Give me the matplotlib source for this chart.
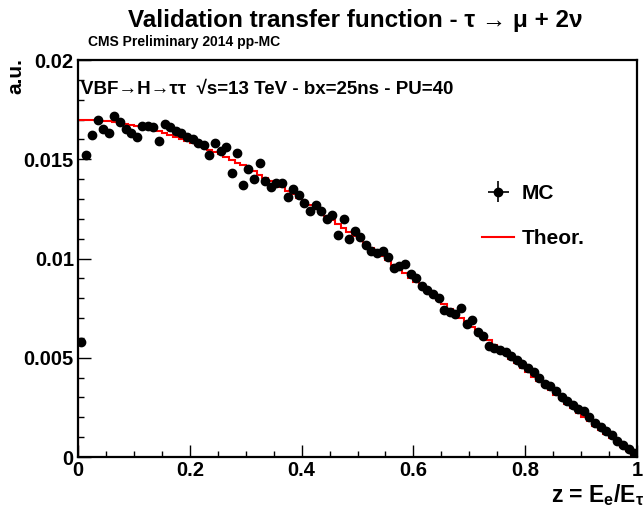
import numpy as np
import matplotlib
matplotlib.use('Agg')
import matplotlib.pyplot as plt
from matplotlib.ticker import MultipleLocator, FuncFormatter

plt.rcParams['font.family'] = ['Liberation Sans', 'DejaVu Sans']
plt.rcParams['font.weight'] = 'bold'
plt.rcParams['mathtext.fontset'] = 'custom'
plt.rcParams['mathtext.rm'] = 'Liberation Sans:bold'
plt.rcParams['mathtext.bf'] = 'Liberation Sans:bold'
plt.rcParams['mathtext.it'] = 'Liberation Sans:bold'

# bin edges of the histogram, z = E_e / E_tau
bordes = np.linspace(0, 1, 101)
centros = (bordes[:-1] + bordes[1:]) / 2

# curva teorica (rojo)
teoria = [
    0.01700, 0.01699, 0.01698, 0.01696, 0.01694, 0.01691, 0.01687, 0.01683, 0.01679, 0.01674,
    0.01668, 0.01662, 0.01655, 0.01648, 0.01640, 0.01632, 0.01623, 0.01614, 0.01604, 0.01594,
    0.01583, 0.01572, 0.01561, 0.01549, 0.01536, 0.01524, 0.01510, 0.01497, 0.01483, 0.01469,
    0.01454, 0.01439, 0.01423, 0.01408, 0.01392, 0.01375, 0.01358, 0.01341, 0.01324, 0.01306,
    0.01288, 0.01270, 0.01252, 0.01233, 0.01214, 0.01195, 0.01175, 0.01155, 0.01135, 0.01115,
    0.01095, 0.01074, 0.01053, 0.01032, 0.01011, 0.00990, 0.00968, 0.00947, 0.00925, 0.00903,
    0.00881, 0.00859, 0.00837, 0.00814, 0.00792, 0.00769, 0.00747, 0.00724, 0.00701, 0.00678,
    0.00656, 0.00633, 0.00610, 0.00587, 0.00564, 0.00541, 0.00518, 0.00495, 0.00472, 0.00449,
    0.00427, 0.00404, 0.00381, 0.00358, 0.00336, 0.00313, 0.00291, 0.00268, 0.00246, 0.00224,
    0.00202, 0.00180, 0.00158, 0.00137, 0.00115, 0.00094, 0.00073, 0.00052, 0.00031, 0.00010,
]

# puntos MC (negro)
mc = [
    0.0058, 0.0152, 0.0162, 0.0170, 0.0165, 0.0163, 0.0172, 0.0169, 0.0165, 0.0163,
    0.0161, 0.0167, 0.0167, 0.0166, 0.0159, 0.0168, 0.0166, 0.0164, 0.0163, 0.0161,
    0.0160, 0.0158, 0.0157, 0.0152, 0.0158, 0.0154, 0.0156, 0.0143, 0.0153, 0.0137,
    0.0145, 0.0140, 0.0148, 0.0139, 0.0136, 0.0138, 0.0138, 0.0131, 0.0135, 0.0132,
    0.0128, 0.0124, 0.0127, 0.0124, 0.0120, 0.0122, 0.0112, 0.0120, 0.0110, 0.0114,
    0.0111, 0.0107, 0.0104, 0.0103, 0.0104, 0.0101, 0.0095, 0.0096, 0.0097, 0.0092,
    0.0090, 0.0086, 0.0084, 0.0082, 0.0080, 0.0074, 0.0073, 0.0072, 0.0075, 0.0067,
    0.0069, 0.0063, 0.0061, 0.0056, 0.0055, 0.0054, 0.0053, 0.0051, 0.0049, 0.0047,
    0.0045, 0.0043, 0.0040, 0.0037, 0.0036, 0.0033, 0.0030, 0.0028, 0.0026, 0.0024,
    0.0023, 0.0020, 0.0017, 0.0015, 0.0013, 0.0011, 0.0008, 0.0006, 0.0004, 0.0002,
]

fig = plt.figure(figsize=(6.43, 5.11), dpi=100)
ax = fig.add_axes([78 / 643, 1 - 457 / 511, 559 / 643, 397 / 511])

h_teo = ax.stairs(teoria, bordes, color='red', linewidth=1.5, baseline=0, label='Theor.', zorder=2)
h_mc = ax.errorbar(centros, mc, xerr=0.005, yerr=0.00015, fmt='o', color='black',
                   markersize=6, elinewidth=1.2, capsize=0, label='MC', zorder=3)

ax.set_xlim(0, 1)
ax.set_ylim(0, 0.02)

ax.xaxis.set_major_locator(MultipleLocator(0.2))
ax.xaxis.set_minor_locator(MultipleLocator(0.05))
ax.yaxis.set_major_locator(MultipleLocator(0.005))
ax.yaxis.set_minor_locator(MultipleLocator(0.001))
ax.xaxis.set_major_formatter(FuncFormatter(lambda v, p: '%g' % round(v, 3)))
ax.yaxis.set_major_formatter(FuncFormatter(lambda v, p: '%g' % round(v, 4)))
ax.tick_params(which='both', direction='in', top=False, right=False, width=1, labelsize=14.5)
ax.tick_params(which='major', length=9, pad=3)
ax.tick_params(which='minor', length=4.5)
for s in ax.spines.values():
    s.set_linewidth(1.6)

# textos
fig.text(355 / 643, 1 - 20 / 511, 'Validation transfer function - \u03c4 \u2192 \u03bc + 2\u03bd',
         ha='center', va='center', fontsize=17.5, fontweight='bold')
fig.text(88 / 643, 1 - 42 / 511, 'CMS Preliminary 2014 pp-MC',
         ha='left', va='center', fontsize=10, fontweight='bold')
ax.text(0.005, 0.925, 'VBF\u2192H\u2192\u03c4\u03c4  \u221as=13 TeV - bx=25ns - PU=40',
        transform=ax.transAxes, ha='left', va='center', fontsize=13.5, fontweight='bold')
fig.text(16 / 643, 1 - 58 / 511, 'a.u.', rotation=90, ha='center', va='top',
         fontsize=15, fontweight='bold')
fig.text(644 / 643, 1 - 495 / 511, r'z = E$_\mathbf{e}$/E$_\mathbf{\tau}$',
         ha='right', va='center', fontsize=16.5, fontweight='bold')

leg = ax.legend([h_mc, h_teo], ['MC', 'Theor.'], loc='upper left',
                bbox_to_anchor=(0.69, 0.735), frameon=False,
                fontsize=15, handlelength=1.5, handletextpad=0.4, labelspacing=1.25)
for t in leg.get_texts():
    t.set_fontweight('bold')

plt.savefig('out.png', dpi=100)
